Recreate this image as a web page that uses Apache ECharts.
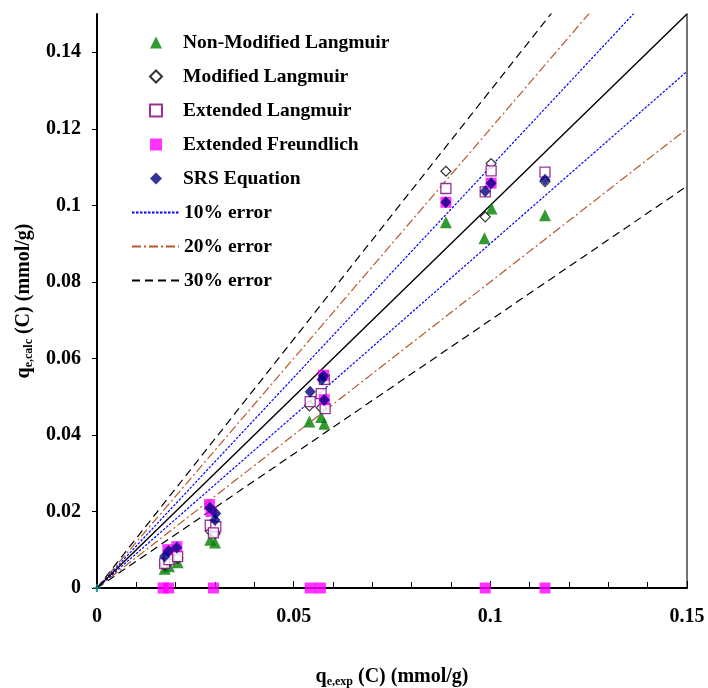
<!DOCTYPE html>
<html>
<head>
<meta charset="utf-8">
<script src="https://cdn.jsdelivr.net/npm/echarts@6/dist/echarts.min.js"></script>
<style>
  html, body { margin: 0; padding: 0; background: #fff; }
  #chart { width: 708px; height: 688px; }
</style>
</head>
<body>
<div id="chart"></div>
<script>
// Experimental vs calculated uptake (mmol/g), one [qexp, qcalc] pair per point
const nonModifiedLangmuir = [
  [0.0172, 0.0050], [0.0183, 0.0057], [0.0205, 0.0067],
  [0.0288, 0.0126], [0.0300, 0.0119],
  [0.0540, 0.0435], [0.0570, 0.0447], [0.0578, 0.0429],
  [0.0887, 0.0956], [0.0985, 0.0914], [0.1003, 0.0992], [0.1139, 0.0974]
];
const modifiedLangmuir = [
  [0.0172, 0.0060], [0.0183, 0.0068], [0.0205, 0.0078],
  [0.0288, 0.0149], [0.0300, 0.0142],
  [0.0540, 0.0476], [0.0570, 0.0471],
  [0.0887, 0.1089], [0.0987, 0.0970], [0.1002, 0.1109], [0.1139, 0.1062]
];
const extendedLangmuir = [
  [0.0172, 0.0064], [0.0183, 0.0074], [0.0205, 0.0082],
  [0.0288, 0.0164], [0.0302, 0.0160], [0.0296, 0.0144],
  [0.0542, 0.0487], [0.0570, 0.0508], [0.0580, 0.0469], [0.0578, 0.0545],
  [0.0887, 0.1044], [0.0987, 0.1035], [0.1002, 0.1090], [0.1139, 0.1087]
];
const extendedFreundlich = [
  [0.0168, 0], [0.0182, 0], [0.0296, 0], [0.0542, 0], [0.0568, 0], [0.0987, 0], [0.1139, 0],
  [0.0180, 0.0100], [0.0203, 0.0108], [0.0286, 0.0218], [0.0290, 0.0200],
  [0.0576, 0.0556], [0.0578, 0.0492], [0.0887, 0.1008], [0.1002, 0.1058]
];
const srsEquation = [
  [0.0172, 0.0082], [0.0182, 0.0097], [0.0203, 0.0106],
  [0.0287, 0.0210], [0.0302, 0.0195], [0.0300, 0.0178],
  [0.0542, 0.0513], [0.0576, 0.0554], [0.0572, 0.0545], [0.0578, 0.0491],
  [0.0887, 0.1008], [0.0987, 0.1037], [0.1002, 0.1058], [0.1139, 0.1067]
];

// Parity line and error bands (end points of each straight line)
const parityLine = [[0, 0], [0.15, 0.15]];
const err10Upper = [[0, 0], [0.15, 0.165]];
const err10Lower = [[0, 0], [0.15, 0.135]];
const err20Upper = [[0, 0], [0.15, 0.18]];
const err20Lower = [[0, 0], [0.15, 0.12]];
const err30Upper = [[0, 0], [0.15, 0.195]];
const err30Lower = [[0, 0], [0.15, 0.105]];

const markerNames = ['Non-Modified Langmuir', 'Modified Langmuir', 'Extended Langmuir',
  'Extended Freundlich', 'SRS Equation'];
const bandNames = ['10% error', '20% error', '30% error'];

const FONT = '"Liberation Serif", "Times New Roman", serif';
const fmt = v => String(+v.toFixed(2));
const legendText = { fontFamily: FONT, fontWeight: 'bold', fontSize: 19.5, color: '#000', lineHeight: 21 };

const chart = echarts.init(document.getElementById('chart'), null, { renderer: 'canvas' });

function errLine(name, data, color, dash) {
  return {
    name, type: 'line', data, symbol: 'none', silent: true,
    lineStyle: { color, width: 1.2, type: dash },
    itemStyle: { color }, z: 1, animation: false
  };
}

chart.setOption({
  backgroundColor: '#fff',
  animation: false,
  textStyle: { fontFamily: FONT },
  grid: { left: 97, right: 21, top: 14, bottom: 100, outerBoundsMode: 'none', containLabel: false },
  legend: [{
    data: markerNames,
    orient: 'vertical',
    left: 144, top: 27,
    itemWidth: 12, itemHeight: 12,
    itemGap: 13,
    textStyle: Object.assign({ padding: [0, 0, 0, 16] }, legendText),
    selectedMode: false
  }, {
    data: bandNames,
    orient: 'vertical',
    left: 126, top: 197,
    itemWidth: 47, itemHeight: 12,
    itemGap: 13,
    itemStyle: { opacity: 0 },
    textStyle: legendText,
    selectedMode: false
  }],
  xAxis: {
    type: 'value', min: 0, max: 0.15, interval: 0.05,
    name: '{q|q}{s|e,exp}{q| (C) (mmol/g)}',
    nameLocation: 'middle', nameGap: 78,
    nameTextStyle: {
      rich: {
        q: { fontFamily: FONT, fontWeight: 'bold', fontSize: 20, color: '#000', lineHeight: 22 },
        s: { fontFamily: FONT, fontWeight: 'bold', fontSize: 12, color: '#000', verticalAlign: 'bottom', lineHeight: 12 }
      }
    },
    axisLine: { onZero: false, lineStyle: { color: '#000', width: 2 } },
    axisTick: { inside: true, length: 7, lineStyle: { color: '#000', width: 1 } },
    minorTick: { show: true, splitNumber: 5, length: 6, lineStyle: { color: '#000', width: 1 } },
    splitLine: { show: false },
    axisLabel: { formatter: fmt, margin: 19, fontFamily: FONT, fontWeight: 'bold', fontSize: 20, color: '#000' }
  },
  yAxis: [{
    type: 'value', min: 0, max: 0.15, interval: 0.02,
    name: '{q|q}{s|e,calc}{q| (C) (mmol/g)}',
    nameLocation: 'middle', nameGap: 58, nameRotate: 90,
    nameTextStyle: {
      rich: {
        q: { fontFamily: FONT, fontWeight: 'bold', fontSize: 20, color: '#000', lineHeight: 22 },
        s: { fontFamily: FONT, fontWeight: 'bold', fontSize: 12, color: '#000', verticalAlign: 'bottom', lineHeight: 12 }
      }
    },
    axisLine: { onZero: false, lineStyle: { color: '#000', width: 2 } },
    axisTick: { inside: false, length: 5, lineStyle: { color: '#000', width: 1 } },
    splitLine: { show: false },
    axisLabel: { formatter: fmt, showMaxLabel: false, margin: 16, fontFamily: FONT, fontWeight: 'bold', fontSize: 20, color: '#000' }
  }, {
    type: 'value', min: 0, max: 0.15, position: 'right',
    axisLine: { show: true, onZero: false, lineStyle: { color: '#444', width: 1.5 } },
    axisTick: { show: false }, axisLabel: { show: false }, splitLine: { show: false }
  }],
  series: [
    errLine('30% error', err30Upper, '#000000', [8, 5]),
    errLine('30% error', err30Lower, '#000000', [8, 5]),
    errLine('20% error', err20Upper, '#B9572B', [9, 3, 2, 3]),
    errLine('20% error', err20Lower, '#B9572B', [9, 3, 2, 3]),
    errLine('10% error', err10Upper, '#0000FF', [2.5, 1.5]),
    errLine('10% error', err10Lower, '#0000FF', [2.5, 1.5]),
    {
      name: 'parity', type: 'line', silent: true, z: 1,
      data: parityLine.map((p, i) => i === 0
        ? { value: p, symbol: 'path://M4,0h2v4h4v2h-4v4h-2v-4h-4v-2h4z', symbolSize: 8, itemStyle: { color: '#008080' } }
        : { value: p, symbol: 'none' }),
      showSymbol: true,
      lineStyle: { color: '#000', width: 1.4, type: 'solid' }
    },
    {
      name: 'Non-Modified Langmuir', type: 'scatter', data: nonModifiedLangmuir,
      symbol: 'triangle', symbolSize: 12, z: 3,
      itemStyle: { color: '#008000' }
    },
    {
      name: 'Modified Langmuir', type: 'scatter', data: modifiedLangmuir,
      symbol: 'diamond', symbolSize: 10, z: 3,
      itemStyle: { color: '#fff', borderColor: '#000', borderWidth: 1.2 }
    },
    {
      name: 'Extended Langmuir', type: 'scatter', data: extendedLangmuir,
      symbol: 'rect', symbolSize: 10, z: 3,
      itemStyle: { color: '#fff', borderColor: '#800080', borderWidth: 1.3 }
    },
    {
      name: 'Extended Freundlich', type: 'scatter', data: extendedFreundlich,
      symbol: 'rect', symbolSize: 11, z: 3,
      itemStyle: { color: '#FF00FF' }
    },
    {
      name: 'SRS Equation', type: 'scatter', data: srsEquation,
      symbol: 'diamond', symbolSize: [11, 12], z: 3,
      itemStyle: { color: '#000080' }
    }
  ]
});
</script>
</body>
</html>
